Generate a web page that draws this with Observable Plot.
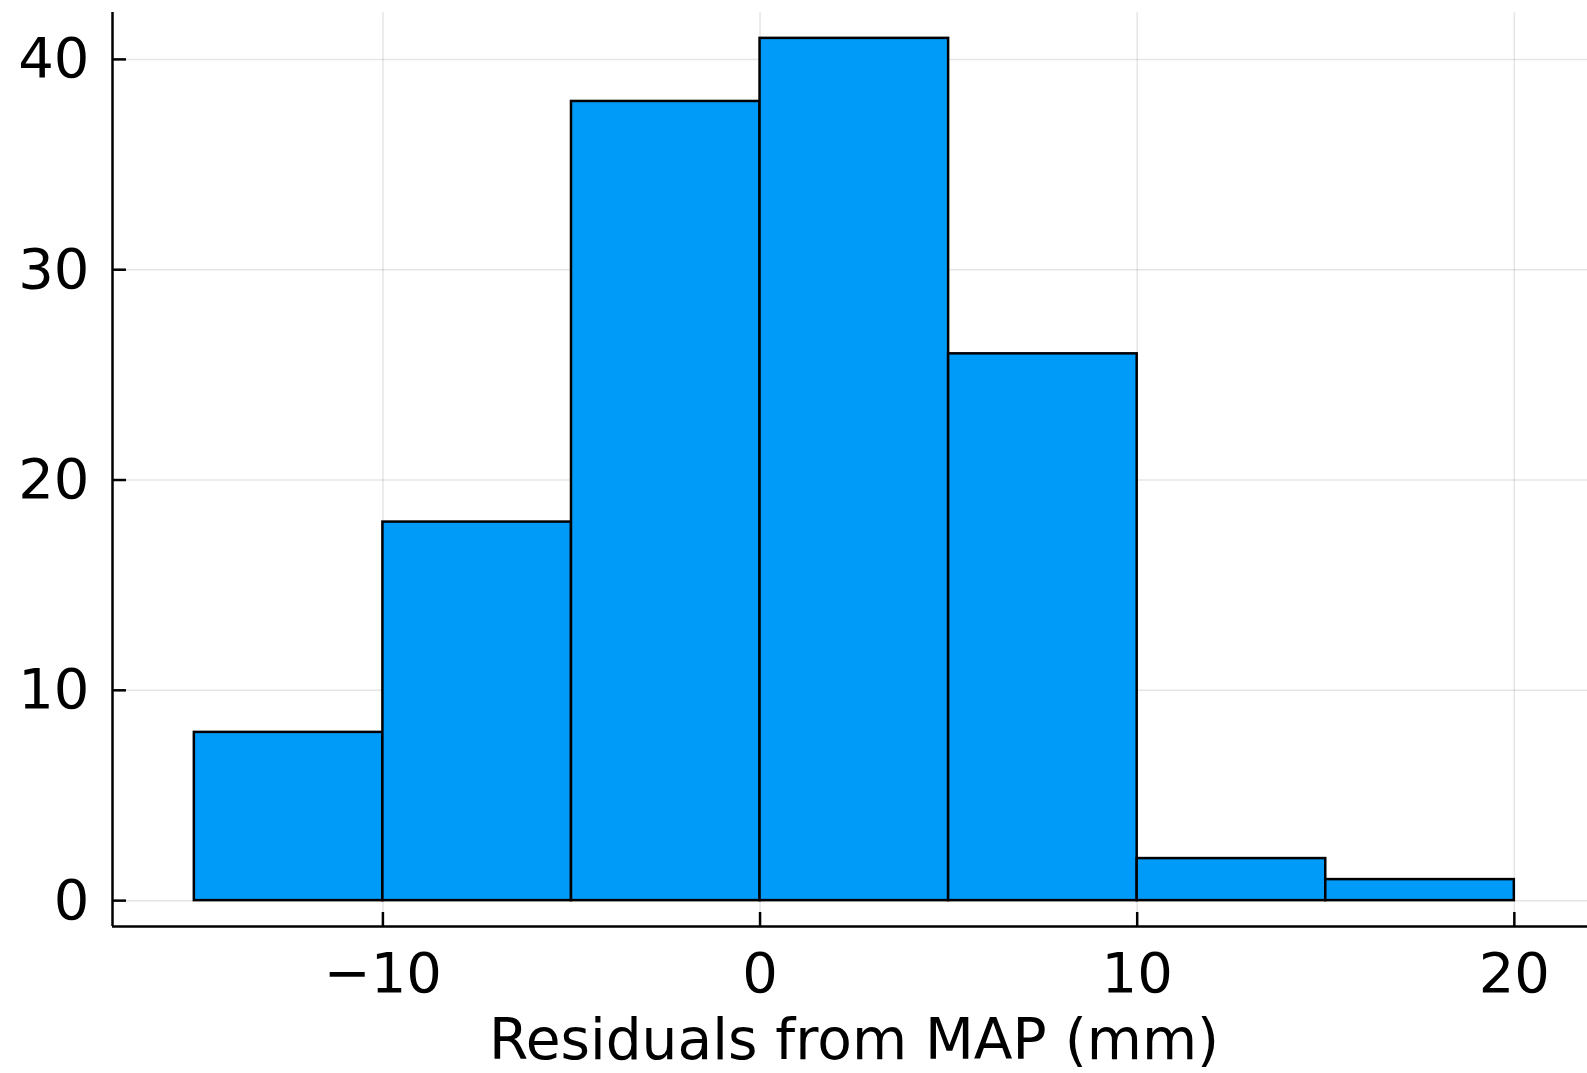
<!DOCTYPE html>
<html><head><meta charset="utf-8">
<script src="https://cdn.jsdelivr.net/npm/d3@7"></script>
<script src="https://cdn.jsdelivr.net/npm/@observablehq/plot@0.6"></script>
<style>
html,body{margin:0;padding:0;background:#fff;overflow:hidden;}
svg{display:block;}
</style>
</head><body><div id="chart"></div>
<script>
// Data
const binStarts = [-15, -10, -5, 0, 5, 10, 15];
const binEnds = [-10, -5, 0, 5, 10, 15, 20];
const counts = [8, 18, 38, 41, 26, 2, 1];
const xTicks = [-10, 0, 10, 20];
const yTicks = [0, 10, 20, 30, 40];
const xDomain = [-17.17, 21.94];
const yDomain = [-1.23, 42.23];
const xLabel = "Residuals from MAP (mm)";
const barColor = "#009AF9";

const bins = binStarts.map((s, i) => ({x1: s, x2: binEnds[i], count: counts[i]}));
const fmt = d => d < 0 ? "\u2212" + Math.abs(d) : String(d);
const lw = 2.5;

const chart = Plot.plot({
  width: 1587,
  height: 1073,
  marginLeft: 112,
  marginRight: 0,
  marginTop: 12,
  marginBottom: 147,
  style: {fontFamily: "DejaVu Sans", fontSize: "56px", color: "#000", background: "#fff"},
  x: {domain: xDomain, label: null},
  y: {domain: yDomain, label: null},
  marks: [
    Plot.gridX(xTicks, {stroke: "#000", strokeOpacity: 0.1, strokeWidth: 1.5}),
    Plot.gridY(yTicks, {stroke: "#000", strokeOpacity: 0.1, strokeWidth: 1.5}),
    Plot.rectY(bins, {x1: "x1", x2: "x2", y: "count", fill: barColor, stroke: "#000", strokeWidth: lw}),
    Plot.ruleX([xDomain[0]], {stroke: "#000", strokeWidth: lw}),
    Plot.ruleY([yDomain[0]], {stroke: "#000", strokeWidth: lw}),
    Plot.axisX(xTicks, {tickSize: -14, tickFormat: () => "", strokeWidth: lw, label: null}),
    Plot.axisX(xTicks, {tickSize: 0, tickPadding: 26, tickFormat: fmt, label: null}),
    Plot.axisY(yTicks, {tickSize: -14, tickFormat: () => "", strokeWidth: lw, label: null}),
    Plot.axisY(yTicks, {tickSize: 0, tickPadding: 23, tickFormat: fmt, label: null}),
    Plot.text([xLabel], {text: d => d, frameAnchor: "bottom", dx: 4, dy: 114, lineAnchor: "middle", fontSize: 56.6, fill: "#000"})
  ]
});
document.getElementById("chart").appendChild(chart);
</script>
</body></html>
